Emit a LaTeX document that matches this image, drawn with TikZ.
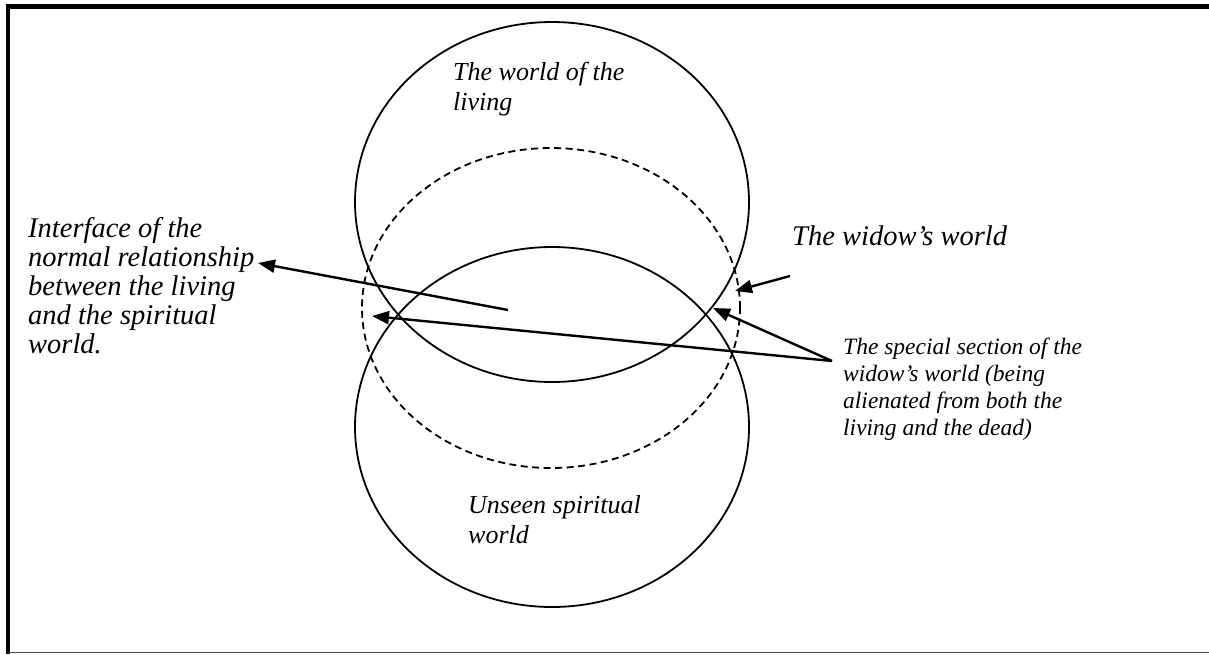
\documentclass[tikz,border=0pt]{standalone}
\usepackage{fontspec}
\setmainfont{Liberation Serif}
\usetikzlibrary{arrows.meta,shapes.geometric}
\begin{document}
\begin{tikzpicture}[x=1pt,y=-1pt,
  world/.style={ellipse,draw,line width=1.8pt,inner sep=0pt},
  lbl/.style={anchor=base west,inner sep=0pt,align=left,font=\itshape},
  big/.style={lbl,font=\itshape\fontsize{28.5}{29}\selectfont},
  mid/.style={lbl,font=\itshape\fontsize{26}{30}\selectfont},
  small/.style={lbl,font=\itshape\fontsize{23.5}{26.7}\selectfont},
  arr/.style={line width=2.4pt,-{Triangle[length=17pt,width=13pt]}}]
\useasboundingbox (0,0) rectangle (1209,654);
% frame
\draw[line width=4.5pt] (8,654) -- (8,6.5) -- (1209,6.5);
\draw[line width=1.3pt,black!70] (8,652.5) -- (1209,652.5);
% circles
\node[world,minimum width=394pt,minimum height=360pt] (living) at (552,202) {};
\node[world,minimum width=394pt,minimum height=360pt] (spirit) at (552,427) {};
\node[world,dash pattern=on 7pt off 4.5pt,minimum width=378pt,minimum height=320pt] (widow) at (551,308) {};
% labels (anchored at the baseline of the last line)
\node[mid] (tl) at (453,110) {The world of the\\living};
\node[mid] (us) at (468,543) {Unseen spiritual\\world};
\node[big] (ifc) at (28,353) {Interface of the\\normal relationship\\between the living\\and the spiritual\\world.};
\node[big] (ww) at (792,245) {The widow’s world};
\node[small] (sp) at (843,435) {The special section of the\\widow’s world (being\\alienated from both the\\living and the dead)};
% arrow points
\coordinate (c1) at (508,310);
\coordinate (t1) at (258,263);
\coordinate (conv) at (832,361);
\coordinate (t2) at (372,316);
\coordinate (t3) at (713,308);
\coordinate (c4) at (790,276);
\coordinate (t4) at (735,291);
\draw[arr] (c1) -- (t1);
\draw[arr] (conv) -- (t2);
\draw[arr] (conv) -- (t3);
\draw[arr] (c4) -- (t4);
\end{tikzpicture}
\end{document}
